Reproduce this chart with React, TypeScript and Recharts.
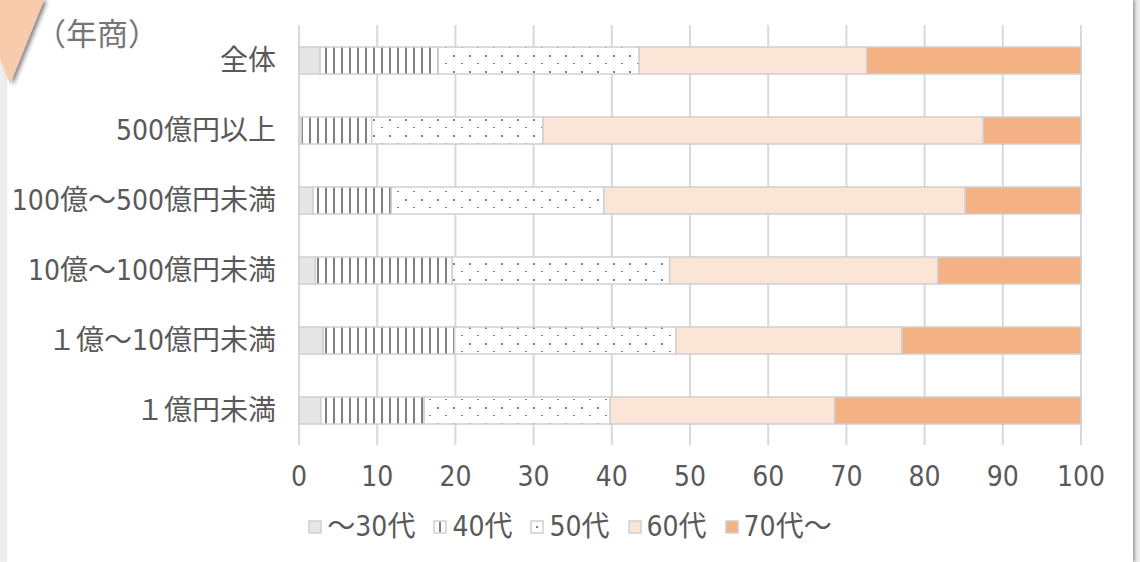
import { Bar, BarChart, CartesianGrid, XAxis, YAxis } from "recharts"

const categories = ["全体", "500億円以上", "100億～500億円未満", "10億～100億円未満", "１億～10億円未満", "１億円未満"]
const age30 = [2.7, 0.3, 1.8, 2.1, 3.1, 2.8]
const age40 = [15.1, 9.0, 10.0, 17.5, 16.8, 13.2]
const age50 = [25.7, 21.9, 27.2, 27.8, 28.3, 23.8]
const age60 = [29.1, 56.3, 46.2, 34.3, 28.9, 28.7]
const age70 = [27.4, 12.5, 14.8, 18.3, 22.9, 31.5]
const xTicks = [0, 10, 20, 30, 40, 50, 60, 70, 80, 90, 100]

const series = [
  { key: "a30", name: "～30代", values: age30, fill: "#e6e6e6" },
  { key: "a40", name: "40代", values: age40, fill: "url(#stripes)" },
  { key: "a50", name: "50代", values: age50, fill: "url(#dots)" },
  { key: "a60", name: "60代", values: age60, fill: "#fbe5d6" },
  { key: "a70", name: "70代～", values: age70, fill: "#f4b183" },
]

const data = categories.map((name, i) => {
  const row: Record<string, string | number> = { name }
  series.forEach((s) => (row[s.key] = s.values[i]))
  return row
})

const font = "'Liberation Sans Narrow', 'DejaVu Sans Condensed', 'Noto Sans CJK JP', sans-serif"
const textColor = "#595959"
const border = "#d0d0d0"

function Patterns() {
  return (
    <defs>
      <pattern id="stripes" width="8" height="8" patternUnits="userSpaceOnUse">
        <rect width="8" height="8" fill="#fff" />
        <rect x="5" width="2" height="8" fill="#7f7f7f" />
      </pattern>
      <pattern id="dots" width="16" height="16" patternUnits="userSpaceOnUse">
        <rect width="16" height="16" fill="#fff" />
        <rect x="5" y="7" width="2" height="2" fill="#7f7f7f" />
        <rect x="13" y="15" width="2" height="2" fill="#7f7f7f" />
      </pattern>
    </defs>
  )
}

function LegendBox({ k, fill }: { k: string; fill: string }) {
  return (
    <svg width="14" height="14" style={{ display: "block" }}>
      <rect x="1" y="1" width="12" height="12" fill={k === "a40" || k === "a50" ? "#fff" : fill} stroke={border} strokeWidth="1.5" />
      {k === "a40" && <rect x="6" y="2" width="2" height="10" fill="#7f7f7f" />}
      {k === "a50" && <rect x="6" y="6" width="2" height="2" fill="#7f7f7f" />}
    </svg>
  )
}

export default function App() {
  return (
    <div style={{ position: "absolute", left: 0, top: 0, width: 1140, height: 562, background: "#eeeeee", overflow: "hidden" }}>
      <div style={{ position: "absolute", left: 7, top: 0, width: 1126, height: 562, background: "#fff", boxShadow: "2px 0 3px rgba(0,0,0,0.35)" }} />
      <svg width="80" height="100" style={{ position: "absolute", left: 0, top: 0 }}>
        <filter id="sh" x="-50%" y="-50%" width="200%" height="200%">
          <feDropShadow dx="3" dy="1" stdDeviation="2" floodColor="#000" floodOpacity="0.5" />
        </filter>
        <polygon points="0,0 44,0 10,84 0,58" fill="#f8cbad" filter="url(#sh)" />
      </svg>
      <div style={{ position: "absolute", left: 35, top: 11, fontSize: 31, lineHeight: "42px", color: "#767676", fontFamily: "'Noto Sans CJK JP', sans-serif" }}>
        （年商）
      </div>
      <div style={{ position: "absolute", left: 0, top: 0 }}>
        <BarChart width={1140} height={562} data={data} layout="vertical" margin={{ top: 25, right: 59, left: 0, bottom: 0 }} barSize={27}>
          <Patterns />
          <CartesianGrid horizontal={false} stroke="#d9d9d9" strokeWidth={2} />
          <XAxis
            type="number"
            domain={[0, 100]}
            ticks={xTicks}
            height={117}
            axisLine={false}
            tickLine={false}
            tickSize={0}
            tickMargin={21}
            tick={{ fontSize: 28, fill: textColor, fontFamily: font }}
          />
          <YAxis
            type="category"
            dataKey="name"
            width={299}
            axisLine={false}
            tickLine={false}
            tickSize={0}
            tickMargin={23}
            interval={0}
            tick={{ fontSize: 28, fill: textColor, fontFamily: font }}
          />
          {series.map((s) => (
            <Bar key={s.key} dataKey={s.key} name={s.name} stackId="a" fill={s.fill} stroke={border} strokeWidth={1.5} isAnimationActive={false} />
          ))}
        </BarChart>
      </div>
      <div
        style={{
          position: "absolute",
          left: 0,
          top: 508,
          width: 1140,
          display: "flex",
          justifyContent: "center",
          gap: 18,
          fontSize: 28,
          lineHeight: "38px",
          color: textColor,
          fontFamily: font,
        }}
      >
        {series.map((s) => (
          <div key={s.key} style={{ display: "flex", alignItems: "center", gap: 5 }}>
            <LegendBox k={s.key} fill={s.fill} />
            <span>{s.name}</span>
          </div>
        ))}
      </div>
    </div>
  )
}
